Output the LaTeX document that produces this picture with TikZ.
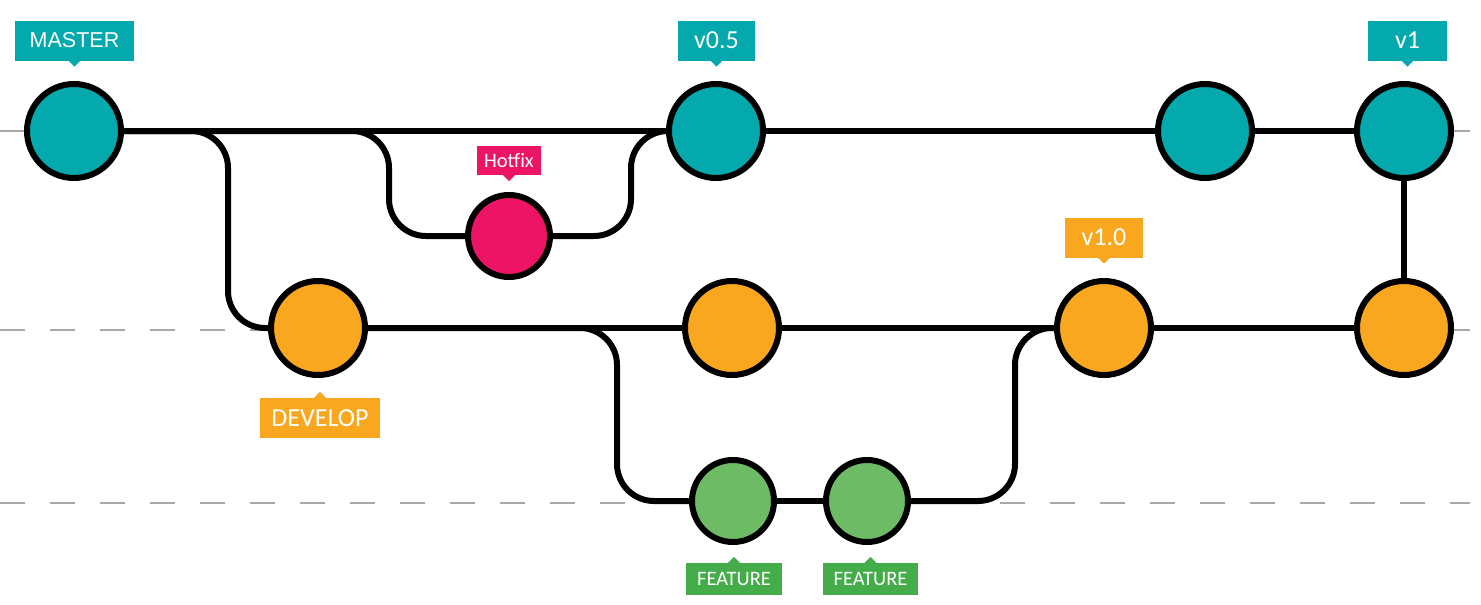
\documentclass[tikz,border=0pt]{standalone}
\usepackage{fontspec}
\setmainfont{Liberation Sans}
\newfontfamily\tagfont{Carlito}
\usetikzlibrary{calc,backgrounds}
\definecolor{teal}{HTML}{03A9AC}
\definecolor{orng}{HTML}{F8A71E}
\definecolor{mag}{HTML}{EE1465}
\definecolor{gcirc}{HTML}{6EBB66}
\definecolor{gtag}{HTML}{44AD4A}
\definecolor{guide}{HTML}{A8A8A8}
\newcommand{\ptrdown}[2]{\fill[#2] ($(#1.south)+(-6.5,-0.5)$) -- ($(#1.south)+(6.5,-0.5)$) -- ($(#1.south)+(0,6)$) -- cycle;}
\newcommand{\ptrup}[2]{\fill[#2] ($(#1.north)+(-6.5,0.5)$) -- ($(#1.north)+(6.5,0.5)$) -- ($(#1.north)+(0,-6)$) -- cycle;}
\begin{document}
\begin{tikzpicture}[x=1pt,y=-1pt,
  commit/.style={circle,draw=black,line width=6pt,minimum size=94pt,inner sep=0pt},
  small/.style={commit,minimum size=82pt},
  conn/.style={draw=black,line width=6pt,rounded corners=37pt},
  guideline/.style={draw=guide,line width=1.5pt,dash pattern=on 25pt off 25pt},
  tag/.style={rectangle,inner sep=0pt,text=white,minimum height=40pt},
  bigtag/.style={tag,font=\fontsize{21.5}{21.5}\selectfont},
  midtag/.style={tag,font=\tagfont\fontsize{26}{26}\selectfont},
  smalltag/.style={tag,font=\tagfont\fontsize{20.5}{20.5}\selectfont}]
\useasboundingbox (0,0) rectangle (1481,605);
% commits
\node[commit,fill=teal] (m1) at (74,131) {};
\node[commit,fill=teal] (v05) at (716,131) {};
\node[commit,fill=teal] (m3) at (1205,131) {};
\node[commit,fill=teal] (v1) at (1404,131) {};
\node[small,fill=mag] (h) at (509,236) {};
\node[commit,fill=orng] (d1) at (318,328) {};
\node[commit,fill=orng] (d2) at (732,328) {};
\node[commit,fill=orng] (v10) at (1104,328) {};
\node[commit,fill=orng] (d4) at (1404,328) {};
\node[small,fill=gcirc] (f1) at (733,501) {};
\node[small,fill=gcirc] (f2) at (867,501) {};
% routing corners
\coordinate (ca) at (228,328);
\coordinate (ha) at (389,236);
\coordinate (hb) at (631,236);
\coordinate (fa) at (617,501);
\coordinate (fb) at (1015,501);
\coordinate (g1a) at (0,131);
\coordinate (g1b) at (1470,131);
\coordinate (g2a) at (0,330);
\coordinate (g2b) at (1470,330);
\coordinate (g3a) at (0,503);
\coordinate (g3b) at (1470,503);
\begin{scope}[on background layer]
\draw[guideline] (g1a) -- (g1b);
\draw[guideline] (g2a) -- (g2b);
\draw[guideline] (g3a) -- (g3b);
\draw[conn] (m1.east) -- (v05.west);
\draw[conn] (m1.east) -| (ca) -- (d1.west);
\draw[conn] (m1.east) -| (ha) -- (h.west);
\draw[conn] (h.east) -- (hb) |- (v05.west);
\draw[conn] (v05.east) -- (m3.west);
\draw[conn] (m3.east) -- (v1.west);
\draw[conn] (v1.south) -- (d4.north);
\draw[conn] (d1.east) -- (d2.west);
\draw[conn] (d2.east) -- (v10.west);
\draw[conn] (v10.east) -- (d4.west);
\draw[conn] (d1.east) -| (fa) -- (f1.west);
\draw[conn] (f1.east) -- (f2.west);
\draw[conn] (f2.east) -- (fb) |- (v10.west);
\end{scope}
% tags
\node[bigtag,fill=teal,minimum width=119pt] (lm1) at (74.5,40.5) {MASTER};
\ptrdown{lm1}{teal}
\node[midtag,fill=teal,minimum width=77pt] (lv05) at (716.5,40.5) {v0.5};
\ptrdown{lv05}{teal}
\node[midtag,fill=teal,minimum width=79pt] (lv1) at (1407.5,40.5) {v1};
\ptrdown{lv1}{teal}
\node[midtag,fill=orng,minimum width=78pt] (lv10) at (1104,237.5) {v1.0};
\ptrdown{lv10}{orng}
\node[smalltag,fill=mag,minimum width=64pt,minimum height=29pt] (lh) at (509,160.5) {Hotfix};
\ptrdown{lh}{mag}
\node[midtag,fill=orng,minimum width=120pt] (ld1) at (320,418) {DEVELOP};
\ptrup{ld1}{orng}
\node[smalltag,fill=gtag,minimum width=96pt,minimum height=32pt] (lf1) at (734,579) {FEATURE};
\ptrup{lf1}{gtag}
\node[smalltag,fill=gtag,minimum width=95pt,minimum height=32pt] (lf2) at (870.5,579) {FEATURE};
\ptrup{lf2}{gtag}
\end{tikzpicture}
\end{document}
